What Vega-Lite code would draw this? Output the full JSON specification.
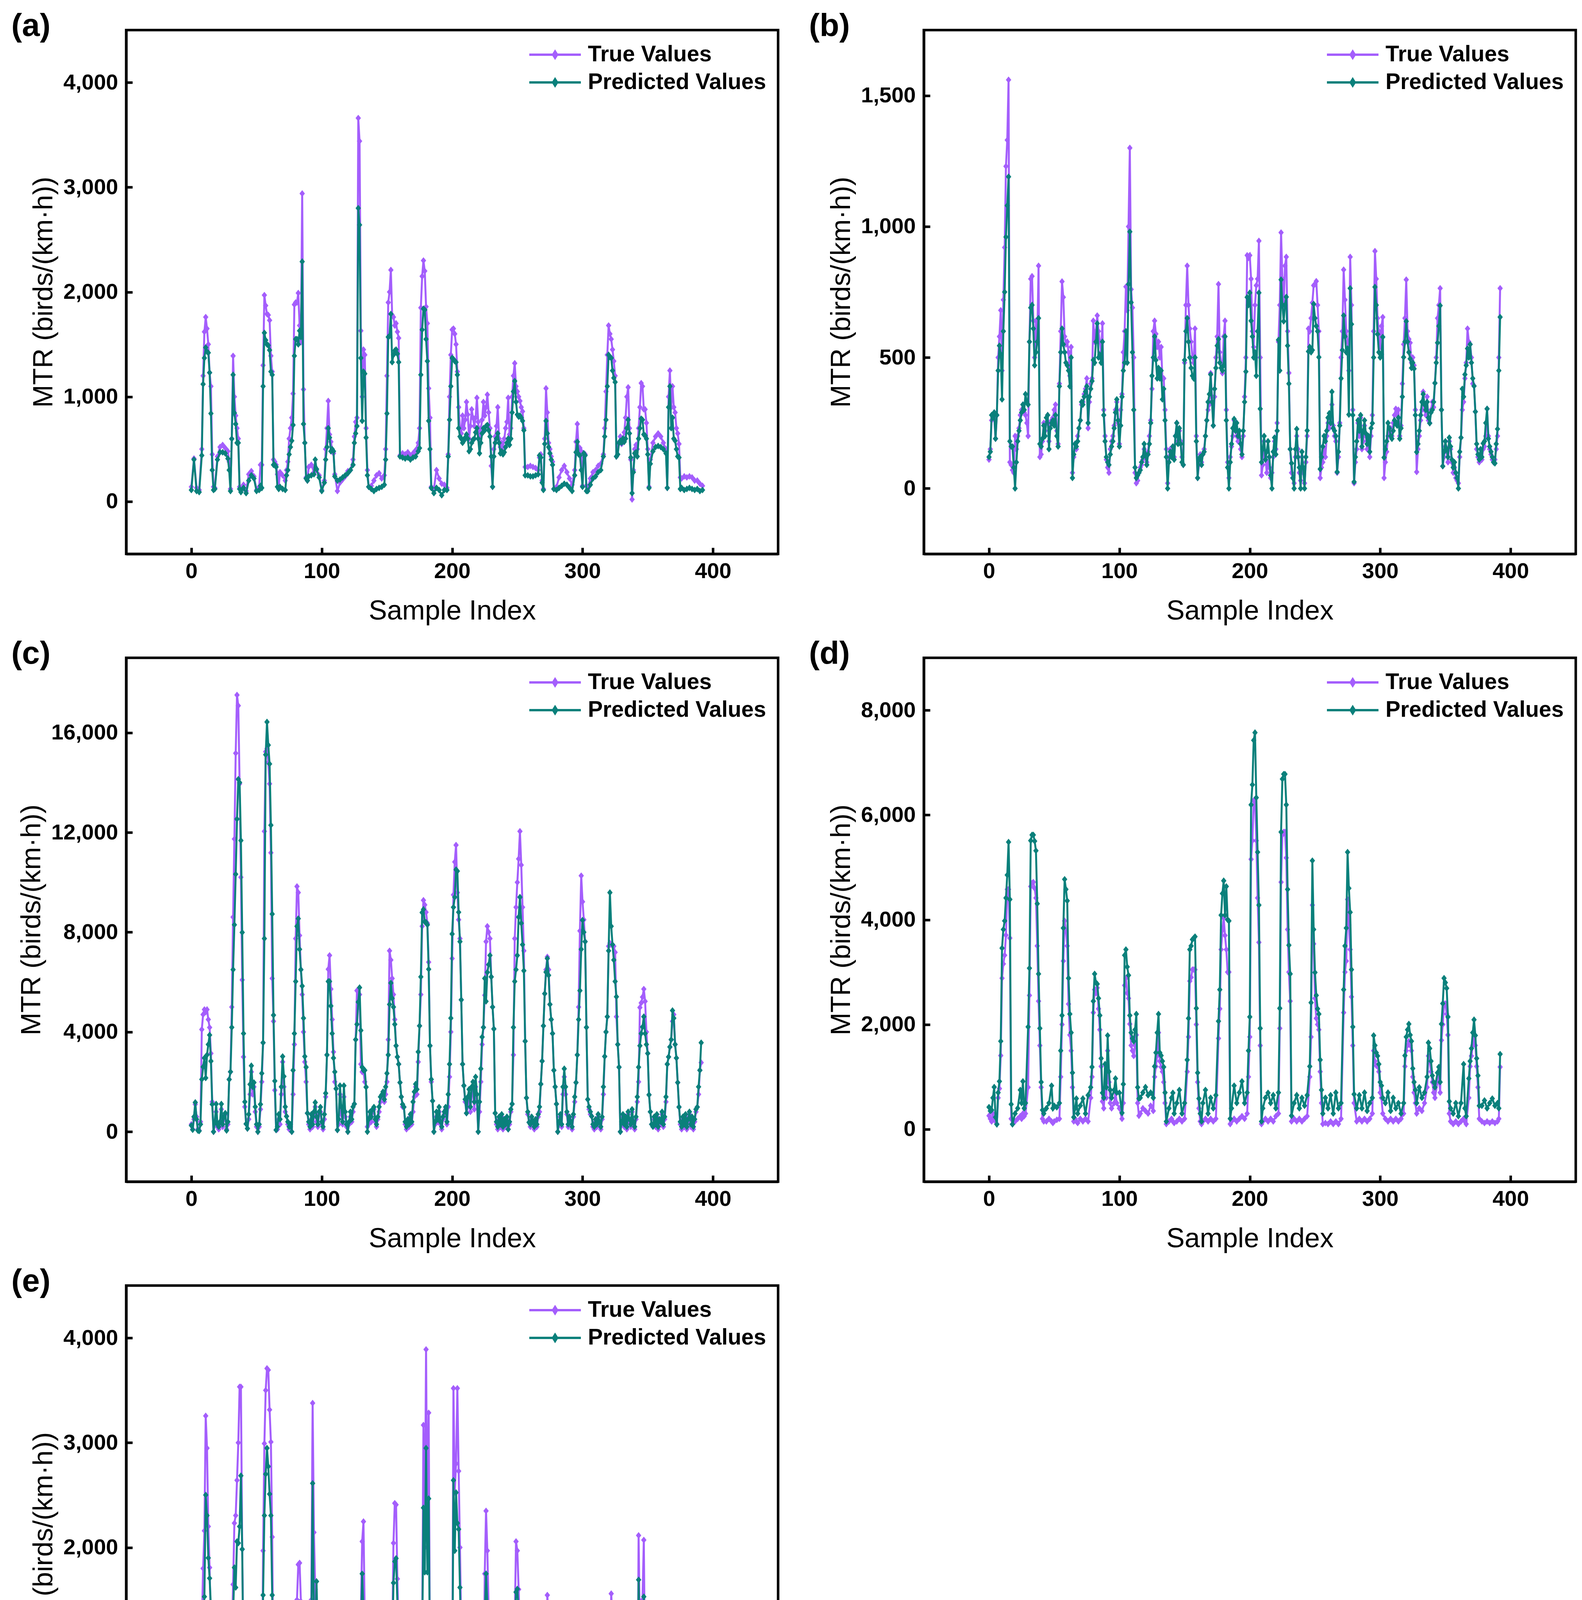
{
  "$schema": "https://vega.github.io/schema/vega-lite/v6.json",
  "background": "white",
  "padding": {"left": 25, "top": 22, "right": 5, "bottom": 5},
  "datasets": {
    "a": [
      {"i":0,"t":140,"p":110},{"i":2,"t":410,"p":400},{"i":4,"t":130,"p":100},{"i":6,"t":110,"p":90},{"i":8,"t":500,"p":440},{"i":9,"t":1200,"p":1120},{"i":10,"t":1620,"p":1370},{"i":11,"t":1760,"p":1470},{"i":12,"t":1650,"p":1430},{"i":13,"t":1500,"p":1420},{"i":14,"t":1230,"p":1230},{"i":15,"t":1100,"p":840},{"i":16,"t":450,"p":300},{"i":17,"t":140,"p":110},{"i":18,"t":130,"p":120},{"i":20,"t":430,"p":400},{"i":22,"t":520,"p":470},{"i":24,"t":540,"p":470},{"i":26,"t":510,"p":460},{"i":28,"t":480,"p":410},{"i":29,"t":380,"p":300},{"i":30,"t":120,"p":100},{"i":31,"t":600,"p":598},{"i":32,"t":1390,"p":1210},{"i":33,"t":1000,"p":845},{"i":34,"t":820,"p":740},{"i":35,"t":700,"p":560},{"i":36,"t":600,"p":560},{"i":37,"t":140,"p":120},{"i":38,"t":110,"p":90},{"i":40,"t":160,"p":130},{"i":42,"t":100,"p":80},{"i":44,"t":260,"p":200},{"i":46,"t":290,"p":250},{"i":48,"t":240,"p":220},{"i":50,"t":110,"p":100},{"i":52,"t":140,"p":110},{"i":53,"t":350,"p":150},{"i":54,"t":350,"p":130},{"i":55,"t":1300,"p":1100},{"i":56,"t":1970,"p":1610},{"i":57,"t":1870,"p":1540},{"i":58,"t":1790,"p":1500},{"i":59,"t":1780,"p":1490},{"i":60,"t":1730,"p":1445},{"i":61,"t":1390,"p":1240},{"i":62,"t":1240,"p":1210},{"i":63,"t":400,"p":350},{"i":64,"t":380,"p":350},{"i":65,"t":350,"p":330},{"i":66,"t":260,"p":140},{"i":67,"t":140,"p":120},{"i":68,"t":280,"p":140},{"i":70,"t":250,"p":120},{"i":72,"t":200,"p":110},{"i":73,"t":300,"p":250},{"i":74,"t":380,"p":300},{"i":75,"t":600,"p":450},{"i":76,"t":700,"p":520},{"i":77,"t":800,"p":580},{"i":78,"t":1030,"p":730},{"i":79,"t":1880,"p":1390},{"i":80,"t":1900,"p":1550},{"i":81,"t":1900,"p":1550},{"i":82,"t":1990,"p":1500},{"i":83,"t":1680,"p":1630},{"i":84,"t":1520,"p":1570},{"i":85,"t":2940,"p":2290},{"i":86,"t":1070,"p":740},{"i":87,"t":560,"p":560},{"i":88,"t":230,"p":220},{"i":89,"t":200,"p":200},{"i":90,"t":330,"p":240},{"i":92,"t":350,"p":250},{"i":94,"t":280,"p":260},{"i":95,"t":330,"p":400},{"i":96,"t":300,"p":310},{"i":98,"t":250,"p":230},{"i":100,"t":110,"p":100},{"i":102,"t":200,"p":180},{"i":103,"t":500,"p":400},{"i":104,"t":700,"p":520},{"i":105,"t":960,"p":700},{"i":106,"t":640,"p":610},{"i":107,"t":570,"p":480},{"i":108,"t":500,"p":500},{"i":109,"t":460,"p":480},{"i":110,"t":260,"p":240},{"i":112,"t":100,"p":200},{"i":114,"t":180,"p":210},{"i":116,"t":210,"p":230},{"i":118,"t":240,"p":250},{"i":120,"t":290,"p":270},{"i":122,"t":300,"p":300},{"i":124,"t":400,"p":350},{"i":125,"t":620,"p":560},{"i":126,"t":760,"p":650},{"i":127,"t":800,"p":720},{"i":128,"t":3660,"p":2800},{"i":129,"t":3440,"p":2640},{"i":130,"t":1630,"p":1370},{"i":131,"t":1000,"p":770},{"i":132,"t":1450,"p":1240},{"i":133,"t":1400,"p":1220},{"i":134,"t":700,"p":610},{"i":135,"t":300,"p":250},{"i":136,"t":140,"p":140},{"i":138,"t":150,"p":120},{"i":140,"t":200,"p":100},{"i":142,"t":250,"p":120},{"i":144,"t":270,"p":130},{"i":146,"t":220,"p":140},{"i":148,"t":250,"p":160},{"i":149,"t":500,"p":400},{"i":150,"t":1200,"p":840},{"i":151,"t":1900,"p":1570},{"i":152,"t":2000,"p":1580},{"i":153,"t":2210,"p":1790},{"i":154,"t":1780,"p":1330},{"i":155,"t":1760,"p":1400},{"i":156,"t":1680,"p":1440},{"i":157,"t":1700,"p":1450},{"i":158,"t":1620,"p":1410},{"i":159,"t":1560,"p":1330},{"i":160,"t":440,"p":430},{"i":162,"t":460,"p":420},{"i":164,"t":450,"p":410},{"i":166,"t":470,"p":420},{"i":168,"t":440,"p":400},{"i":170,"t":460,"p":420},{"i":172,"t":490,"p":430},{"i":174,"t":560,"p":480},{"i":175,"t":700,"p":510},{"i":176,"t":1850,"p":1210},{"i":177,"t":2150,"p":1640},{"i":178,"t":2300,"p":1840},{"i":179,"t":2200,"p":1830},{"i":180,"t":1860,"p":1550},{"i":181,"t":1700,"p":1340},{"i":182,"t":1080,"p":770},{"i":183,"t":800,"p":500},{"i":184,"t":140,"p":130},{"i":186,"t":120,"p":80},{"i":188,"t":300,"p":130},{"i":190,"t":220,"p":110},{"i":192,"t":170,"p":60},{"i":194,"t":160,"p":110},{"i":196,"t":130,"p":110},{"i":197,"t":450,"p":430},{"i":198,"t":1000,"p":780},{"i":199,"t":1400,"p":1100},{"i":200,"t":1640,"p":1370},{"i":201,"t":1650,"p":1360},{"i":202,"t":1600,"p":1340},{"i":203,"t":1500,"p":1330},{"i":204,"t":1240,"p":1210},{"i":205,"t":900,"p":700},{"i":206,"t":700,"p":620},{"i":207,"t":650,"p":600},{"i":208,"t":820,"p":560},{"i":209,"t":700,"p":580},{"i":210,"t":780,"p":610},{"i":211,"t":950,"p":640},{"i":212,"t":830,"p":600},{"i":213,"t":600,"p":480},{"i":214,"t":720,"p":500},{"i":215,"t":880,"p":560},{"i":216,"t":800,"p":590},{"i":217,"t":720,"p":600},{"i":218,"t":800,"p":660},{"i":219,"t":990,"p":700},{"i":220,"t":760,"p":600},{"i":221,"t":600,"p":460},{"i":222,"t":700,"p":560},{"i":223,"t":780,"p":650},{"i":224,"t":950,"p":700},{"i":225,"t":820,"p":680},{"i":226,"t":900,"p":720},{"i":227,"t":1020,"p":730},{"i":228,"t":850,"p":680},{"i":229,"t":700,"p":620},{"i":230,"t":340,"p":430},{"i":231,"t":140,"p":140},{"i":232,"t":500,"p":430},{"i":233,"t":620,"p":560},{"i":234,"t":720,"p":600},{"i":235,"t":900,"p":650},{"i":236,"t":600,"p":560},{"i":237,"t":520,"p":460},{"i":238,"t":560,"p":480},{"i":239,"t":520,"p":450},{"i":240,"t":600,"p":470},{"i":241,"t":700,"p":520},{"i":242,"t":760,"p":560},{"i":243,"t":990,"p":600},{"i":244,"t":640,"p":540},{"i":245,"t":700,"p":600},{"i":246,"t":1000,"p":850},{"i":247,"t":1200,"p":1050},{"i":248,"t":1320,"p":1150},{"i":249,"t":1100,"p":950},{"i":250,"t":1050,"p":830},{"i":251,"t":1000,"p":810},{"i":252,"t":960,"p":820},{"i":253,"t":900,"p":800},{"i":254,"t":860,"p":770},{"i":255,"t":700,"p":680},{"i":256,"t":330,"p":250},{"i":258,"t":330,"p":250},{"i":260,"t":340,"p":240},{"i":262,"t":330,"p":240},{"i":264,"t":320,"p":250},{"i":266,"t":300,"p":260},{"i":267,"t":420,"p":440},{"i":268,"t":450,"p":420},{"i":269,"t":200,"p":180},{"i":270,"t":120,"p":110},{"i":271,"t":600,"p":550},{"i":272,"t":1080,"p":770},{"i":273,"t":850,"p":650},{"i":274,"t":560,"p":520},{"i":275,"t":500,"p":460},{"i":276,"t":430,"p":400},{"i":277,"t":380,"p":350},{"i":278,"t":120,"p":120},{"i":280,"t":140,"p":110},{"i":282,"t":230,"p":130},{"i":284,"t":300,"p":150},{"i":286,"t":340,"p":170},{"i":288,"t":280,"p":160},{"i":290,"t":220,"p":130},{"i":292,"t":160,"p":100},{"i":294,"t":300,"p":250},{"i":295,"t":570,"p":470},{"i":296,"t":740,"p":570},{"i":297,"t":500,"p":450},{"i":298,"t":510,"p":440},{"i":299,"t":480,"p":300},{"i":300,"t":150,"p":140},{"i":301,"t":430,"p":460},{"i":302,"t":450,"p":440},{"i":303,"t":150,"p":100},{"i":304,"t":120,"p":100},{"i":306,"t":220,"p":160},{"i":308,"t":280,"p":220},{"i":310,"t":300,"p":240},{"i":312,"t":340,"p":280},{"i":314,"t":360,"p":300},{"i":316,"t":450,"p":430},{"i":317,"t":700,"p":620},{"i":318,"t":1050,"p":780},{"i":319,"t":1400,"p":1100},{"i":320,"t":1680,"p":1400},{"i":321,"t":1600,"p":1380},{"i":322,"t":1550,"p":1370},{"i":323,"t":1450,"p":1250},{"i":324,"t":1340,"p":1180},{"i":325,"t":1200,"p":1140},{"i":326,"t":430,"p":430},{"i":327,"t":550,"p":450},{"i":328,"t":560,"p":560},{"i":329,"t":620,"p":580},{"i":330,"t":550,"p":560},{"i":331,"t":600,"p":600},{"i":332,"t":660,"p":570},{"i":333,"t":800,"p":600},{"i":334,"t":1000,"p":700},{"i":335,"t":1090,"p":780},{"i":336,"t":700,"p":650},{"i":337,"t":400,"p":420},{"i":338,"t":20,"p":80},{"i":339,"t":300,"p":280},{"i":340,"t":500,"p":460},{"i":341,"t":540,"p":470},{"i":342,"t":500,"p":430},{"i":343,"t":700,"p":600},{"i":344,"t":900,"p":700},{"i":345,"t":1130,"p":790},{"i":346,"t":1100,"p":780},{"i":347,"t":880,"p":640},{"i":348,"t":880,"p":630},{"i":349,"t":750,"p":600},{"i":350,"t":500,"p":450},{"i":351,"t":140,"p":130},{"i":352,"t":400,"p":360},{"i":354,"t":560,"p":480},{"i":356,"t":620,"p":520},{"i":358,"t":650,"p":530},{"i":360,"t":620,"p":520},{"i":362,"t":560,"p":500},{"i":364,"t":500,"p":460},{"i":365,"t":130,"p":130},{"i":366,"t":1000,"p":900},{"i":367,"t":1250,"p":1100},{"i":368,"t":900,"p":700},{"i":369,"t":1100,"p":800},{"i":370,"t":900,"p":600},{"i":371,"t":850,"p":580},{"i":372,"t":700,"p":500},{"i":373,"t":650,"p":430},{"i":374,"t":550,"p":420},{"i":375,"t":230,"p":120},{"i":376,"t":220,"p":130},{"i":378,"t":240,"p":110},{"i":380,"t":230,"p":120},{"i":382,"t":240,"p":130},{"i":384,"t":230,"p":120},{"i":386,"t":200,"p":110},{"i":388,"t":200,"p":120},{"i":390,"t":170,"p":100},{"i":392,"t":150,"p":110}
    ],
    "b": [
      {"i":0,"t":110,"p":120},{"i":1,"t":150,"p":140},{"i":2,"t":260,"p":280},{"i":3,"t":280,"p":270},{"i":4,"t":270,"p":290},{"i":5,"t":190,"p":190},{"i":6,"t":280,"p":280},{"i":7,"t":500,"p":450},{"i":8,"t":580,"p":545},{"i":9,"t":680,"p":512},{"i":10,"t":450,"p":340},{"i":11,"t":720,"p":600},{"i":12,"t":920,"p":750},{"i":13,"t":1230,"p":960},{"i":14,"t":1330,"p":1080},{"i":15,"t":1560,"p":1190},{"i":16,"t":100,"p":180},{"i":17,"t":90,"p":160},{"i":18,"t":70,"p":160},{"i":19,"t":60,"p":80},{"i":20,"t":200,"p":0},{"i":21,"t":150,"p":100},{"i":22,"t":200,"p":180},{"i":23,"t":230,"p":220},{"i":24,"t":280,"p":260},{"i":25,"t":300,"p":290},{"i":26,"t":320,"p":320},{"i":27,"t":290,"p":300},{"i":28,"t":280,"p":360},{"i":29,"t":250,"p":330},{"i":30,"t":200,"p":320},{"i":31,"t":560,"p":560},{"i":32,"t":800,"p":690},{"i":33,"t":810,"p":700},{"i":34,"t":640,"p":610},{"i":35,"t":500,"p":470},{"i":36,"t":640,"p":520},{"i":37,"t":560,"p":560},{"i":38,"t":850,"p":650},{"i":39,"t":120,"p":170},{"i":40,"t":130,"p":160},{"i":41,"t":180,"p":190},{"i":42,"t":250,"p":240},{"i":43,"t":220,"p":200},{"i":44,"t":250,"p":270},{"i":45,"t":280,"p":280},{"i":46,"t":180,"p":150},{"i":47,"t":250,"p":230},{"i":48,"t":260,"p":250},{"i":49,"t":270,"p":260},{"i":50,"t":300,"p":240},{"i":51,"t":320,"p":280},{"i":52,"t":220,"p":200},{"i":53,"t":170,"p":160},{"i":54,"t":400,"p":390},{"i":55,"t":600,"p":520},{"i":56,"t":790,"p":610},{"i":57,"t":730,"p":550},{"i":58,"t":580,"p":520},{"i":59,"t":550,"p":480},{"i":60,"t":560,"p":470},{"i":61,"t":520,"p":450},{"i":62,"t":430,"p":390},{"i":63,"t":540,"p":500},{"i":64,"t":60,"p":40},{"i":65,"t":120,"p":130},{"i":66,"t":170,"p":170},{"i":67,"t":150,"p":160},{"i":68,"t":200,"p":180},{"i":69,"t":230,"p":230},{"i":70,"t":260,"p":260},{"i":71,"t":320,"p":330},{"i":72,"t":330,"p":320},{"i":73,"t":360,"p":350},{"i":74,"t":380,"p":370},{"i":75,"t":420,"p":390},{"i":76,"t":230,"p":250},{"i":77,"t":330,"p":350},{"i":78,"t":400,"p":380},{"i":79,"t":420,"p":410},{"i":80,"t":640,"p":490},{"i":81,"t":560,"p":480},{"i":82,"t":600,"p":560},{"i":83,"t":660,"p":630},{"i":84,"t":600,"p":500},{"i":85,"t":560,"p":510},{"i":86,"t":520,"p":480},{"i":87,"t":630,"p":560},{"i":88,"t":300,"p":280},{"i":89,"t":200,"p":180},{"i":90,"t":110,"p":120},{"i":91,"t":80,"p":100},{"i":92,"t":60,"p":90},{"i":93,"t":150,"p":130},{"i":94,"t":180,"p":160},{"i":95,"t":200,"p":180},{"i":96,"t":240,"p":230},{"i":97,"t":300,"p":290},{"i":98,"t":330,"p":340},{"i":99,"t":250,"p":260},{"i":100,"t":170,"p":160},{"i":101,"t":300,"p":240},{"i":102,"t":360,"p":350},{"i":103,"t":520,"p":450},{"i":104,"t":600,"p":480},{"i":105,"t":770,"p":600},{"i":106,"t":680,"p":480},{"i":107,"t":1000,"p":780},{"i":108,"t":1300,"p":980},{"i":109,"t":760,"p":710},{"i":110,"t":690,"p":520},{"i":111,"t":500,"p":300},{"i":112,"t":60,"p":80},{"i":113,"t":20,"p":40},{"i":114,"t":30,"p":50},{"i":115,"t":60,"p":60},{"i":116,"t":80,"p":70},{"i":117,"t":90,"p":100},{"i":118,"t":110,"p":120},{"i":119,"t":150,"p":170},{"i":120,"t":120,"p":130},{"i":121,"t":100,"p":90},{"i":122,"t":140,"p":130},{"i":123,"t":200,"p":170},{"i":124,"t":260,"p":250},{"i":125,"t":380,"p":430},{"i":126,"t":600,"p":500},{"i":127,"t":640,"p":580},{"i":128,"t":590,"p":490},{"i":129,"t":540,"p":420},{"i":130,"t":560,"p":460},{"i":131,"t":500,"p":420},{"i":132,"t":540,"p":450},{"i":133,"t":420,"p":340},{"i":134,"t":420,"p":380},{"i":135,"t":300,"p":260},{"i":136,"t":150,"p":120},{"i":137,"t":20,"p":0},{"i":138,"t":120,"p":100},{"i":139,"t":150,"p":140},{"i":140,"t":130,"p":120},{"i":141,"t":160,"p":160},{"i":142,"t":120,"p":110},{"i":143,"t":200,"p":200},{"i":144,"t":250,"p":250},{"i":145,"t":180,"p":170},{"i":146,"t":220,"p":230},{"i":147,"t":180,"p":170},{"i":148,"t":120,"p":100},{"i":149,"t":90,"p":90},{"i":150,"t":480,"p":490},{"i":151,"t":700,"p":600},{"i":152,"t":850,"p":650},{"i":153,"t":700,"p":560},{"i":154,"t":610,"p":500},{"i":155,"t":560,"p":460},{"i":156,"t":500,"p":430},{"i":157,"t":480,"p":420},{"i":158,"t":610,"p":500},{"i":159,"t":200,"p":180},{"i":160,"t":40,"p":40},{"i":161,"t":90,"p":110},{"i":162,"t":130,"p":120},{"i":163,"t":100,"p":90},{"i":164,"t":130,"p":130},{"i":165,"t":150,"p":140},{"i":166,"t":200,"p":200},{"i":167,"t":260,"p":260},{"i":168,"t":300,"p":330},{"i":169,"t":320,"p":360},{"i":170,"t":440,"p":435},{"i":171,"t":350,"p":330},{"i":172,"t":240,"p":240},{"i":173,"t":350,"p":380},{"i":174,"t":500,"p":460},{"i":175,"t":580,"p":545},{"i":176,"t":780,"p":570},{"i":177,"t":520,"p":480},{"i":178,"t":480,"p":460},{"i":179,"t":440,"p":450},{"i":180,"t":580,"p":470},{"i":181,"t":640,"p":580},{"i":182,"t":300,"p":260},{"i":183,"t":100,"p":80},{"i":184,"t":40,"p":0},{"i":185,"t":120,"p":100},{"i":186,"t":160,"p":170},{"i":187,"t":200,"p":230},{"i":188,"t":260,"p":265},{"i":189,"t":230,"p":220},{"i":190,"t":200,"p":250},{"i":191,"t":180,"p":200},{"i":192,"t":190,"p":220},{"i":193,"t":150,"p":170},{"i":194,"t":120,"p":130},{"i":195,"t":200,"p":220},{"i":196,"t":350,"p":330},{"i":197,"t":500,"p":446},{"i":198,"t":890,"p":730},{"i":199,"t":880,"p":700},{"i":200,"t":890,"p":747},{"i":201,"t":800,"p":640},{"i":202,"t":600,"p":580},{"i":203,"t":540,"p":500},{"i":204,"t":700,"p":520},{"i":205,"t":775,"p":430},{"i":206,"t":800,"p":600},{"i":207,"t":945,"p":747},{"i":208,"t":500,"p":304},{"i":209,"t":50,"p":100},{"i":210,"t":90,"p":150},{"i":211,"t":180,"p":200},{"i":212,"t":120,"p":110},{"i":213,"t":60,"p":140},{"i":214,"t":100,"p":180},{"i":215,"t":80,"p":120},{"i":216,"t":40,"p":50},{"i":217,"t":60,"p":0},{"i":218,"t":120,"p":140},{"i":219,"t":180,"p":194},{"i":220,"t":150,"p":130},{"i":221,"t":250,"p":220},{"i":222,"t":560,"p":567},{"i":223,"t":700,"p":450},{"i":224,"t":977,"p":797},{"i":225,"t":800,"p":700},{"i":226,"t":700,"p":638},{"i":227,"t":850,"p":700},{"i":228,"t":884,"p":731},{"i":229,"t":600,"p":545},{"i":230,"t":441,"p":400},{"i":231,"t":150,"p":150},{"i":232,"t":60,"p":96},{"i":233,"t":40,"p":40},{"i":234,"t":20,"p":0},{"i":235,"t":120,"p":150},{"i":236,"t":200,"p":227},{"i":237,"t":150,"p":120},{"i":238,"t":60,"p":80},{"i":239,"t":30,"p":0},{"i":240,"t":120,"p":140},{"i":241,"t":60,"p":80},{"i":242,"t":20,"p":0},{"i":243,"t":100,"p":120},{"i":244,"t":200,"p":221},{"i":245,"t":610,"p":523},{"i":246,"t":600,"p":540},{"i":247,"t":650,"p":520},{"i":248,"t":709,"p":528},{"i":249,"t":775,"p":704},{"i":250,"t":780,"p":650},{"i":251,"t":791,"p":620},{"i":252,"t":700,"p":600},{"i":253,"t":600,"p":501},{"i":254,"t":40,"p":74},{"i":255,"t":80,"p":120},{"i":256,"t":100,"p":160},{"i":257,"t":150,"p":200},{"i":258,"t":120,"p":180},{"i":259,"t":200,"p":220},{"i":260,"t":250,"p":270},{"i":261,"t":230,"p":287},{"i":262,"t":260,"p":250},{"i":263,"t":320,"p":369},{"i":264,"t":240,"p":230},{"i":265,"t":200,"p":220},{"i":266,"t":180,"p":200},{"i":267,"t":60,"p":63},{"i":268,"t":120,"p":140},{"i":269,"t":250,"p":240},{"i":270,"t":500,"p":420},{"i":271,"t":600,"p":528},{"i":272,"t":835,"p":660},{"i":273,"t":720,"p":580},{"i":274,"t":600,"p":520},{"i":275,"t":560,"p":534},{"i":276,"t":450,"p":282},{"i":277,"t":884,"p":764},{"i":278,"t":700,"p":627},{"i":279,"t":300,"p":280},{"i":280,"t":20,"p":25},{"i":281,"t":100,"p":120},{"i":282,"t":150,"p":180},{"i":283,"t":250,"p":260},{"i":284,"t":200,"p":220},{"i":285,"t":270,"p":280},{"i":286,"t":150,"p":160},{"i":287,"t":180,"p":220},{"i":288,"t":240,"p":260},{"i":289,"t":200,"p":210},{"i":290,"t":150,"p":170},{"i":291,"t":180,"p":200},{"i":292,"t":120,"p":140},{"i":293,"t":200,"p":230},{"i":294,"t":280,"p":249},{"i":295,"t":600,"p":500},{"i":296,"t":906,"p":769},{"i":297,"t":800,"p":700},{"i":298,"t":650,"p":589},{"i":299,"t":600,"p":520},{"i":300,"t":540,"p":500},{"i":301,"t":620,"p":512},{"i":302,"t":654,"p":578},{"i":303,"t":40,"p":118},{"i":304,"t":100,"p":150},{"i":305,"t":140,"p":180},{"i":306,"t":200,"p":250},{"i":307,"t":220,"p":230},{"i":308,"t":230,"p":200},{"i":309,"t":200,"p":190},{"i":310,"t":250,"p":220},{"i":311,"t":280,"p":260},{"i":312,"t":304,"p":250},{"i":313,"t":280,"p":240},{"i":314,"t":300,"p":270},{"i":315,"t":200,"p":190},{"i":316,"t":240,"p":230},{"i":317,"t":400,"p":350},{"i":318,"t":550,"p":501},{"i":319,"t":650,"p":560},{"i":320,"t":797,"p":638},{"i":321,"t":600,"p":560},{"i":322,"t":570,"p":520},{"i":323,"t":556,"p":495},{"i":324,"t":480,"p":460},{"i":325,"t":500,"p":480},{"i":326,"t":470,"p":457},{"i":327,"t":300,"p":280},{"i":328,"t":63,"p":139},{"i":329,"t":150,"p":170},{"i":330,"t":200,"p":220},{"i":331,"t":260,"p":280},{"i":332,"t":300,"p":330},{"i":333,"t":369,"p":360},{"i":334,"t":300,"p":320},{"i":335,"t":280,"p":300},{"i":336,"t":350,"p":330},{"i":337,"t":260,"p":270},{"i":338,"t":250,"p":249},{"i":339,"t":300,"p":290},{"i":340,"t":330,"p":300},{"i":341,"t":310,"p":330},{"i":342,"t":402,"p":402},{"i":343,"t":500,"p":480},{"i":344,"t":650,"p":556},{"i":345,"t":700,"p":620},{"i":346,"t":764,"p":698},{"i":347,"t":300,"p":300},{"i":348,"t":85,"p":85},{"i":349,"t":120,"p":140},{"i":350,"t":160,"p":180},{"i":351,"t":140,"p":150},{"i":352,"t":100,"p":120},{"i":353,"t":180,"p":194},{"i":354,"t":150,"p":160},{"i":355,"t":100,"p":110},{"i":356,"t":60,"p":80},{"i":357,"t":80,"p":100},{"i":358,"t":40,"p":60},{"i":359,"t":30,"p":40},{"i":360,"t":20,"p":0},{"i":361,"t":120,"p":140},{"i":362,"t":194,"p":194},{"i":363,"t":300,"p":380},{"i":364,"t":330,"p":350},{"i":365,"t":420,"p":435},{"i":366,"t":480,"p":470},{"i":367,"t":610,"p":534},{"i":368,"t":560,"p":500},{"i":369,"t":550,"p":550},{"i":370,"t":500,"p":480},{"i":371,"t":400,"p":420},{"i":372,"t":391,"p":391},{"i":373,"t":293,"p":293},{"i":374,"t":150,"p":170},{"i":375,"t":120,"p":130},{"i":376,"t":100,"p":110},{"i":377,"t":130,"p":150},{"i":378,"t":110,"p":120},{"i":379,"t":150,"p":172},{"i":380,"t":160,"p":180},{"i":381,"t":200,"p":250},{"i":382,"t":304,"p":304},{"i":383,"t":200,"p":190},{"i":384,"t":150,"p":160},{"i":385,"t":130,"p":140},{"i":386,"t":110,"p":120},{"i":387,"t":100,"p":100},{"i":388,"t":110,"p":96},{"i":389,"t":150,"p":170},{"i":390,"t":200,"p":227},{"i":391,"t":500,"p":450},{"i":392,"t":764,"p":654}
    ],
    "c": [
      {"i":0,"t":300,"p":250},{"i":1,"t":100,"p":80},{"i":2,"t":500,"p":600},{"i":3,"t":1100,"p":1175},{"i":4,"t":600,"p":500},{"i":5,"t":100,"p":50},{"i":6,"t":50,"p":30},{"i":7,"t":400,"p":300},{"i":8,"t":4100,"p":2100},{"i":9,"t":4700,"p":2600},{"i":10,"t":4900,"p":2955},{"i":11,"t":4800,"p":2157},{"i":12,"t":4900,"p":3080},{"i":13,"t":4500,"p":3500},{"i":14,"t":4180,"p":3877},{"i":15,"t":3140,"p":2830},{"i":16,"t":1200,"p":1100},{"i":17,"t":0,"p":0},{"i":18,"t":300,"p":400},{"i":19,"t":800,"p":1113},{"i":20,"t":200,"p":300},{"i":21,"t":100,"p":200},{"i":22,"t":300,"p":400},{"i":23,"t":900,"p":1113},{"i":24,"t":200,"p":300},{"i":25,"t":500,"p":600},{"i":26,"t":700,"p":745},{"i":27,"t":100,"p":50},{"i":28,"t":300,"p":400},{"i":29,"t":2100,"p":2096},{"i":30,"t":2400,"p":2403},{"i":31,"t":5000,"p":4184},{"i":32,"t":8605,"p":6500},{"i":33,"t":11737,"p":8298},{"i":34,"t":15176,"p":10325},{"i":35,"t":17510,"p":12536},{"i":36,"t":17080,"p":14132},{"i":37,"t":13948,"p":14000},{"i":38,"t":10202,"p":11676},{"i":39,"t":6087,"p":7991},{"i":40,"t":3000,"p":3938},{"i":41,"t":1000,"p":1200},{"i":42,"t":315,"p":315},{"i":43,"t":130,"p":130},{"i":44,"t":500,"p":700},{"i":45,"t":1500,"p":1900},{"i":46,"t":2400,"p":2649},{"i":47,"t":1500,"p":1800},{"i":48,"t":1800,"p":1973},{"i":49,"t":800,"p":1000},{"i":50,"t":200,"p":300},{"i":51,"t":0,"p":0},{"i":52,"t":200,"p":300},{"i":53,"t":900,"p":1100},{"i":54,"t":2000,"p":2341},{"i":55,"t":3570,"p":3570},{"i":56,"t":12044,"p":7745},{"i":57,"t":15237,"p":15115},{"i":58,"t":15360,"p":16429},{"i":59,"t":14800,"p":15500},{"i":60,"t":13948,"p":14746},{"i":61,"t":11185,"p":12290},{"i":62,"t":6147,"p":8728},{"i":63,"t":4430,"p":4675},{"i":64,"t":1666,"p":2035},{"i":65,"t":70,"p":70},{"i":66,"t":100,"p":200},{"i":67,"t":500,"p":700},{"i":68,"t":300,"p":500},{"i":69,"t":1500,"p":1800},{"i":70,"t":2800,"p":3018},{"i":71,"t":1800,"p":2219},{"i":72,"t":800,"p":1000},{"i":73,"t":620,"p":620},{"i":74,"t":300,"p":400},{"i":75,"t":100,"p":200},{"i":76,"t":200,"p":300},{"i":77,"t":0,"p":0},{"i":78,"t":1500,"p":2465},{"i":79,"t":3500,"p":3938},{"i":80,"t":7745,"p":6026},{"i":81,"t":9834,"p":8237},{"i":82,"t":9588,"p":8544},{"i":83,"t":7868,"p":7315},{"i":84,"t":6500,"p":6500},{"i":85,"t":5500,"p":5842},{"i":86,"t":4000,"p":4553},{"i":87,"t":2800,"p":3018},{"i":88,"t":2000,"p":2588},{"i":89,"t":745,"p":745},{"i":90,"t":300,"p":400},{"i":91,"t":100,"p":200},{"i":92,"t":500,"p":700},{"i":93,"t":200,"p":300},{"i":94,"t":600,"p":800},{"i":95,"t":1000,"p":1175},{"i":96,"t":400,"p":600},{"i":97,"t":200,"p":300},{"i":98,"t":700,"p":800},{"i":99,"t":800,"p":990},{"i":100,"t":300,"p":400},{"i":101,"t":100,"p":200},{"i":102,"t":500,"p":700},{"i":103,"t":1400,"p":1543},{"i":104,"t":3080,"p":3080},{"i":105,"t":6517,"p":6026},{"i":106,"t":7070,"p":6026},{"i":107,"t":5719,"p":5043},{"i":108,"t":4500,"p":3938},{"i":109,"t":3200,"p":2955},{"i":110,"t":2000,"p":2400},{"i":111,"t":1727,"p":1727},{"i":112,"t":70,"p":70},{"i":113,"t":300,"p":500},{"i":114,"t":1500,"p":1850},{"i":115,"t":700,"p":1000},{"i":116,"t":300,"p":400},{"i":117,"t":1400,"p":1850},{"i":118,"t":600,"p":800},{"i":119,"t":200,"p":300},{"i":120,"t":0,"p":0},{"i":121,"t":300,"p":400},{"i":122,"t":600,"p":800},{"i":123,"t":400,"p":500},{"i":124,"t":800,"p":1000},{"i":125,"t":1113,"p":1113},{"i":126,"t":3693,"p":3693},{"i":127,"t":5658,"p":4307},{"i":128,"t":5000,"p":5200},{"i":129,"t":5500,"p":5780},{"i":130,"t":2710,"p":4061},{"i":131,"t":2400,"p":2588},{"i":132,"t":2400,"p":2465},{"i":133,"t":2000,"p":2465},{"i":134,"t":1789,"p":1789},{"i":135,"t":200,"p":0},{"i":136,"t":300,"p":500},{"i":137,"t":600,"p":800},{"i":138,"t":400,"p":600},{"i":139,"t":800,"p":900},{"i":140,"t":900,"p":990},{"i":141,"t":400,"p":500},{"i":142,"t":200,"p":300},{"i":143,"t":500,"p":600},{"i":144,"t":800,"p":1000},{"i":145,"t":1200,"p":1400},{"i":146,"t":1400,"p":1481},{"i":147,"t":1500,"p":1604},{"i":148,"t":1200,"p":1300},{"i":149,"t":1500,"p":1800},{"i":150,"t":2000,"p":2342},{"i":151,"t":3693,"p":3080},{"i":152,"t":7254,"p":5105},{"i":153,"t":6886,"p":5964},{"i":154,"t":6147,"p":5350},{"i":155,"t":5500,"p":5000},{"i":156,"t":4500,"p":4307},{"i":157,"t":3448,"p":3448},{"i":158,"t":3000,"p":3000},{"i":159,"t":2710,"p":2710},{"i":160,"t":1973,"p":1973},{"i":161,"t":1400,"p":1400},{"i":162,"t":1000,"p":1100},{"i":163,"t":990,"p":990},{"i":164,"t":300,"p":400},{"i":165,"t":100,"p":200},{"i":166,"t":400,"p":500},{"i":167,"t":200,"p":300},{"i":168,"t":600,"p":700},{"i":169,"t":300,"p":400},{"i":170,"t":800,"p":1200},{"i":171,"t":1400,"p":1600},{"i":172,"t":1800,"p":1911},{"i":173,"t":1500,"p":1700},{"i":174,"t":2800,"p":3202},{"i":175,"t":4245,"p":4245},{"i":176,"t":5500,"p":6210},{"i":177,"t":8237,"p":8790},{"i":178,"t":9281,"p":8913},{"i":179,"t":9097,"p":8422},{"i":180,"t":8800,"p":8400},{"i":181,"t":8360,"p":8298},{"i":182,"t":6800,"p":6517},{"i":183,"t":3448,"p":3448},{"i":184,"t":2000,"p":2100},{"i":185,"t":1236,"p":1236},{"i":186,"t":0,"p":0},{"i":187,"t":300,"p":400},{"i":188,"t":600,"p":800},{"i":189,"t":400,"p":500},{"i":190,"t":800,"p":990},{"i":191,"t":300,"p":400},{"i":192,"t":100,"p":200},{"i":193,"t":500,"p":600},{"i":194,"t":700,"p":800},{"i":195,"t":900,"p":990},{"i":196,"t":300,"p":400},{"i":197,"t":1000,"p":1500},{"i":198,"t":2200,"p":2710},{"i":199,"t":4000,"p":4553},{"i":200,"t":6947,"p":7930},{"i":201,"t":9500,"p":9000},{"i":202,"t":10816,"p":9404},{"i":203,"t":11492,"p":10509},{"i":204,"t":9588,"p":10448},{"i":205,"t":8500,"p":8800},{"i":206,"t":7745,"p":7622},{"i":207,"t":5289,"p":5289},{"i":208,"t":2710,"p":2710},{"i":209,"t":1850,"p":1850},{"i":210,"t":1200,"p":1300},{"i":211,"t":745,"p":745},{"i":212,"t":1000,"p":1400},{"i":213,"t":1300,"p":1700},{"i":214,"t":800,"p":1000},{"i":215,"t":1500,"p":1800},{"i":216,"t":1700,"p":2000},{"i":217,"t":900,"p":1200},{"i":218,"t":1800,"p":2200},{"i":219,"t":1200,"p":1500},{"i":220,"t":0,"p":0},{"i":221,"t":800,"p":1200},{"i":222,"t":2000,"p":2526},{"i":223,"t":3500,"p":3800},{"i":224,"t":4184,"p":4184},{"i":225,"t":5473,"p":6148},{"i":226,"t":7622,"p":5228},{"i":227,"t":8237,"p":6394},{"i":228,"t":8000,"p":6700},{"i":229,"t":7745,"p":7070},{"i":230,"t":6210,"p":6210},{"i":231,"t":5000,"p":5000},{"i":232,"t":4123,"p":4123},{"i":233,"t":745,"p":745},{"i":234,"t":300,"p":400},{"i":235,"t":100,"p":200},{"i":236,"t":500,"p":600},{"i":237,"t":200,"p":300},{"i":238,"t":600,"p":700},{"i":239,"t":100,"p":200},{"i":240,"t":400,"p":500},{"i":241,"t":200,"p":300},{"i":242,"t":500,"p":600},{"i":243,"t":100,"p":100},{"i":244,"t":300,"p":400},{"i":245,"t":800,"p":900},{"i":246,"t":1113,"p":1113},{"i":247,"t":3080,"p":4184},{"i":248,"t":7745,"p":6026},{"i":249,"t":9000,"p":6500},{"i":250,"t":10000,"p":7070},{"i":251,"t":10939,"p":8606},{"i":252,"t":12044,"p":9404},{"i":253,"t":10693,"p":8360},{"i":254,"t":9000,"p":7500},{"i":255,"t":7254,"p":6456},{"i":256,"t":3631,"p":3631},{"i":257,"t":1358,"p":1358},{"i":258,"t":700,"p":800},{"i":259,"t":377,"p":377},{"i":260,"t":200,"p":300},{"i":261,"t":500,"p":600},{"i":262,"t":300,"p":400},{"i":263,"t":100,"p":200},{"i":264,"t":400,"p":500},{"i":265,"t":200,"p":300},{"i":266,"t":600,"p":700},{"i":267,"t":800,"p":1000},{"i":268,"t":1911,"p":1911},{"i":269,"t":2833,"p":2833},{"i":270,"t":4245,"p":4245},{"i":271,"t":5535,"p":5535},{"i":272,"t":6500,"p":6400},{"i":273,"t":7008,"p":6947},{"i":274,"t":6500,"p":6271},{"i":275,"t":5105,"p":5105},{"i":276,"t":4500,"p":4500},{"i":277,"t":3938,"p":3938},{"i":278,"t":2465,"p":2465},{"i":279,"t":1800,"p":1800},{"i":280,"t":1113,"p":1113},{"i":281,"t":0,"p":0},{"i":282,"t":300,"p":400},{"i":283,"t":600,"p":700},{"i":284,"t":200,"p":300},{"i":285,"t":1500,"p":1800},{"i":286,"t":2200,"p":2526},{"i":287,"t":1500,"p":1800},{"i":288,"t":700,"p":800},{"i":289,"t":200,"p":300},{"i":290,"t":500,"p":600},{"i":291,"t":300,"p":400},{"i":292,"t":100,"p":200},{"i":293,"t":600,"p":700},{"i":294,"t":1200,"p":1400},{"i":295,"t":1973,"p":1973},{"i":296,"t":3080,"p":3080},{"i":297,"t":5000,"p":4500},{"i":298,"t":8053,"p":5658},{"i":299,"t":10264,"p":7315},{"i":300,"t":9220,"p":8483},{"i":301,"t":8500,"p":8000},{"i":302,"t":7622,"p":7622},{"i":303,"t":4184,"p":4184},{"i":304,"t":1298,"p":1298},{"i":305,"t":900,"p":1000},{"i":306,"t":700,"p":800},{"i":307,"t":620,"p":620},{"i":308,"t":200,"p":300},{"i":309,"t":100,"p":200},{"i":310,"t":400,"p":500},{"i":311,"t":200,"p":300},{"i":312,"t":600,"p":700},{"i":313,"t":300,"p":400},{"i":314,"t":100,"p":200},{"i":315,"t":500,"p":600},{"i":316,"t":1500,"p":1800},{"i":317,"t":3018,"p":3018},{"i":318,"t":4000,"p":4000},{"i":319,"t":4614,"p":4614},{"i":320,"t":7438,"p":7254},{"i":321,"t":7561,"p":9588},{"i":322,"t":7500,"p":8237},{"i":323,"t":7480,"p":7500},{"i":324,"t":7438,"p":6886},{"i":325,"t":7193,"p":6026},{"i":326,"t":4614,"p":5412},{"i":327,"t":3500,"p":3500},{"i":328,"t":2588,"p":2588},{"i":329,"t":0,"p":0},{"i":330,"t":300,"p":400},{"i":331,"t":600,"p":700},{"i":332,"t":200,"p":300},{"i":333,"t":500,"p":600},{"i":334,"t":100,"p":200},{"i":335,"t":700,"p":800},{"i":336,"t":400,"p":500},{"i":337,"t":200,"p":300},{"i":338,"t":800,"p":900},{"i":339,"t":300,"p":400},{"i":340,"t":100,"p":200},{"i":341,"t":500,"p":600},{"i":342,"t":1200,"p":1400},{"i":343,"t":2000,"p":2588},{"i":344,"t":4982,"p":3448},{"i":345,"t":5166,"p":3938},{"i":346,"t":5400,"p":4200},{"i":347,"t":5719,"p":4614},{"i":348,"t":5228,"p":3938},{"i":349,"t":4000,"p":3500},{"i":350,"t":3141,"p":3141},{"i":351,"t":1481,"p":1481},{"i":352,"t":800,"p":800},{"i":353,"t":300,"p":300},{"i":354,"t":205,"p":205},{"i":355,"t":500,"p":600},{"i":356,"t":200,"p":300},{"i":357,"t":600,"p":700},{"i":358,"t":100,"p":200},{"i":359,"t":400,"p":500},{"i":360,"t":300,"p":400},{"i":361,"t":700,"p":800},{"i":362,"t":200,"p":300},{"i":363,"t":500,"p":600},{"i":364,"t":1200,"p":1400},{"i":365,"t":2710,"p":2710},{"i":366,"t":3000,"p":3000},{"i":367,"t":3400,"p":3400},{"i":368,"t":3693,"p":3693},{"i":369,"t":4430,"p":4860},{"i":370,"t":4700,"p":4553},{"i":371,"t":3500,"p":3500},{"i":372,"t":2955,"p":2955},{"i":373,"t":1973,"p":1973},{"i":374,"t":990,"p":990},{"i":375,"t":300,"p":400},{"i":376,"t":100,"p":200},{"i":377,"t":500,"p":600},{"i":378,"t":200,"p":300},{"i":379,"t":600,"p":700},{"i":380,"t":100,"p":200},{"i":381,"t":400,"p":500},{"i":382,"t":700,"p":800},{"i":383,"t":200,"p":300},{"i":384,"t":500,"p":600},{"i":385,"t":100,"p":200},{"i":386,"t":400,"p":500},{"i":387,"t":800,"p":900},{"i":388,"t":990,"p":990},{"i":389,"t":1500,"p":1800},{"i":390,"t":2465,"p":2465},{"i":391,"t":2772,"p":3570}
    ],
    "d": [
      {"i":0,"t":258,"p":422},{"i":1,"t":200,"p":350},{"i":2,"t":149,"p":367},{"i":3,"t":300,"p":600},{"i":4,"t":200,"p":805},{"i":5,"t":150,"p":230},{"i":6,"t":100,"p":94},{"i":7,"t":600,"p":700},{"i":8,"t":777,"p":914},{"i":9,"t":1407,"p":1680},{"i":10,"t":2884,"p":3458},{"i":11,"t":3157,"p":3814},{"i":12,"t":3322,"p":3978},{"i":13,"t":3705,"p":4416},{"i":14,"t":4580,"p":4853},{"i":15,"t":4580,"p":5483},{"i":16,"t":3650,"p":4388},{"i":17,"t":200,"p":476},{"i":18,"t":100,"p":94},{"i":20,"t":150,"p":300},{"i":22,"t":200,"p":400},{"i":24,"t":250,"p":750},{"i":25,"t":200,"p":500},{"i":26,"t":300,"p":914},{"i":27,"t":250,"p":400},{"i":28,"t":300,"p":500},{"i":30,"t":800,"p":1954},{"i":31,"t":2556,"p":3075},{"i":32,"t":4635,"p":5510},{"i":33,"t":4700,"p":5619},{"i":34,"t":4717,"p":5619},{"i":35,"t":4600,"p":5500},{"i":36,"t":4416,"p":5318},{"i":37,"t":3500,"p":4306},{"i":38,"t":2446,"p":2966},{"i":39,"t":1598,"p":1926},{"i":40,"t":800,"p":900},{"i":41,"t":200,"p":367},{"i":42,"t":150,"p":300},{"i":44,"t":150,"p":400},{"i":46,"t":200,"p":500},{"i":48,"t":150,"p":832},{"i":49,"t":120,"p":400},{"i":50,"t":150,"p":450},{"i":52,"t":180,"p":420},{"i":54,"t":200,"p":500},{"i":55,"t":1000,"p":1500},{"i":56,"t":2000,"p":2173},{"i":57,"t":3212,"p":3841},{"i":58,"t":3978,"p":4771},{"i":59,"t":3800,"p":4580},{"i":60,"t":3500,"p":4361},{"i":61,"t":2391,"p":2884},{"i":62,"t":1800,"p":2200},{"i":63,"t":1500,"p":1844},{"i":64,"t":800,"p":1078},{"i":65,"t":150,"p":230},{"i":66,"t":200,"p":400},{"i":67,"t":150,"p":586},{"i":68,"t":120,"p":300},{"i":70,"t":200,"p":450},{"i":72,"t":150,"p":586},{"i":74,"t":200,"p":300},{"i":76,"t":150,"p":650},{"i":78,"t":600,"p":800},{"i":79,"t":1000,"p":1188},{"i":80,"t":2227,"p":2446},{"i":81,"t":2665,"p":2966},{"i":82,"t":2600,"p":2800},{"i":83,"t":2700,"p":2774},{"i":84,"t":2300,"p":2500},{"i":85,"t":1900,"p":2173},{"i":86,"t":1200,"p":1352},{"i":87,"t":531,"p":695},{"i":88,"t":400,"p":600},{"i":89,"t":800,"p":1243},{"i":90,"t":600,"p":800},{"i":91,"t":1500,"p":1790},{"i":92,"t":900,"p":1100},{"i":93,"t":500,"p":750},{"i":94,"t":400,"p":600},{"i":96,"t":500,"p":750},{"i":97,"t":700,"p":969},{"i":98,"t":500,"p":700},{"i":100,"t":400,"p":695},{"i":102,"t":200,"p":312},{"i":103,"t":500,"p":860},{"i":104,"t":2747,"p":3322},{"i":105,"t":2884,"p":3431},{"i":106,"t":2600,"p":3100},{"i":107,"t":2500,"p":2939},{"i":108,"t":2009,"p":2173},{"i":109,"t":1600,"p":1844},{"i":110,"t":1500,"p":1735},{"i":111,"t":1400,"p":1680},{"i":112,"t":1600,"p":1900},{"i":113,"t":1800,"p":2200},{"i":114,"t":500,"p":800},{"i":115,"t":258,"p":586},{"i":116,"t":300,"p":600},{"i":118,"t":400,"p":700},{"i":120,"t":350,"p":805},{"i":122,"t":300,"p":650},{"i":124,"t":450,"p":700},{"i":126,"t":350,"p":600},{"i":127,"t":1000,"p":1200},{"i":128,"t":1200,"p":1462},{"i":129,"t":1407,"p":1844},{"i":130,"t":1844,"p":2200},{"i":131,"t":1300,"p":1462},{"i":132,"t":1188,"p":1407},{"i":133,"t":1100,"p":1300},{"i":134,"t":900,"p":1188},{"i":135,"t":500,"p":700},{"i":136,"t":100,"p":149},{"i":138,"t":150,"p":400},{"i":140,"t":200,"p":600},{"i":141,"t":150,"p":695},{"i":142,"t":120,"p":300},{"i":144,"t":150,"p":500},{"i":146,"t":200,"p":750},{"i":148,"t":150,"p":300},{"i":150,"t":200,"p":500},{"i":152,"t":1100,"p":1325},{"i":153,"t":1762,"p":2118},{"i":154,"t":2829,"p":3431},{"i":155,"t":2900,"p":3500},{"i":156,"t":3048,"p":3622},{"i":157,"t":3048,"p":3650},{"i":158,"t":3048,"p":3677},{"i":159,"t":2000,"p":2309},{"i":160,"t":900,"p":1078},{"i":161,"t":400,"p":586},{"i":162,"t":150,"p":300},{"i":163,"t":100,"p":149},{"i":164,"t":150,"p":500},{"i":166,"t":200,"p":750},{"i":168,"t":150,"p":300},{"i":170,"t":200,"p":600},{"i":172,"t":150,"p":400},{"i":174,"t":200,"p":650},{"i":176,"t":1735,"p":2063},{"i":177,"t":2300,"p":2665},{"i":178,"t":3431,"p":4087},{"i":179,"t":3800,"p":4500},{"i":180,"t":4033,"p":4744},{"i":181,"t":3700,"p":4087},{"i":182,"t":3431,"p":4635},{"i":183,"t":3000,"p":4000},{"i":184,"t":3000,"p":3978},{"i":185,"t":100,"p":203},{"i":186,"t":150,"p":400},{"i":188,"t":200,"p":832},{"i":190,"t":150,"p":500},{"i":192,"t":200,"p":700},{"i":194,"t":250,"p":914},{"i":196,"t":200,"p":500},{"i":198,"t":300,"p":700},{"i":199,"t":1000,"p":1500},{"i":200,"t":1762,"p":2145},{"i":201,"t":5154,"p":6194},{"i":202,"t":5510,"p":6577},{"i":203,"t":6276,"p":7425},{"i":204,"t":6300,"p":7572},{"i":205,"t":5510,"p":6331},{"i":206,"t":4416,"p":5291},{"i":207,"t":3568,"p":4279},{"i":208,"t":1598,"p":1926},{"i":209,"t":100,"p":149},{"i":210,"t":150,"p":400},{"i":212,"t":200,"p":600},{"i":214,"t":150,"p":695},{"i":216,"t":200,"p":500},{"i":218,"t":150,"p":650},{"i":220,"t":250,"p":400},{"i":222,"t":300,"p":700},{"i":223,"t":1926,"p":2309},{"i":224,"t":4717,"p":5674},{"i":225,"t":5619,"p":6686},{"i":226,"t":5674,"p":6779},{"i":227,"t":5674,"p":6779},{"i":228,"t":5182,"p":6194},{"i":229,"t":3814,"p":4580},{"i":230,"t":3000,"p":3513},{"i":231,"t":2446,"p":2966},{"i":232,"t":150,"p":258},{"i":234,"t":200,"p":500},{"i":236,"t":150,"p":650},{"i":238,"t":200,"p":400},{"i":240,"t":150,"p":600},{"i":242,"t":200,"p":450},{"i":244,"t":250,"p":650},{"i":246,"t":1000,"p":1200},{"i":247,"t":1762,"p":2418},{"i":248,"t":4279,"p":5127},{"i":249,"t":3540,"p":3814},{"i":250,"t":2500,"p":2993},{"i":251,"t":2118,"p":2556},{"i":252,"t":2000,"p":2300},{"i":253,"t":1900,"p":2200},{"i":254,"t":1100,"p":1325},{"i":255,"t":500,"p":750},{"i":256,"t":100,"p":300},{"i":258,"t":120,"p":600},{"i":260,"t":100,"p":400},{"i":262,"t":150,"p":650},{"i":264,"t":100,"p":300},{"i":266,"t":150,"p":700},{"i":268,"t":100,"p":400},{"i":270,"t":200,"p":500},{"i":272,"t":2227,"p":2665},{"i":273,"t":3000,"p":3500},{"i":274,"t":3212,"p":3841},{"i":275,"t":4388,"p":5291},{"i":276,"t":3900,"p":4600},{"i":277,"t":3431,"p":4142},{"i":278,"t":2528,"p":3048},{"i":279,"t":1598,"p":1954},{"i":280,"t":500,"p":668},{"i":282,"t":150,"p":400},{"i":284,"t":200,"p":650},{"i":286,"t":150,"p":400},{"i":288,"t":200,"p":700},{"i":290,"t":150,"p":350},{"i":292,"t":200,"p":500},{"i":294,"t":300,"p":600},{"i":295,"t":1500,"p":1790},{"i":296,"t":1300,"p":1600},{"i":297,"t":1215,"p":1462},{"i":298,"t":1200,"p":1400},{"i":299,"t":1100,"p":1243},{"i":300,"t":700,"p":900},{"i":301,"t":600,"p":832},{"i":302,"t":300,"p":600},{"i":304,"t":200,"p":500},{"i":306,"t":150,"p":700},{"i":308,"t":200,"p":350},{"i":310,"t":150,"p":600},{"i":312,"t":200,"p":400},{"i":314,"t":150,"p":500},{"i":316,"t":200,"p":300},{"i":318,"t":300,"p":500},{"i":319,"t":1200,"p":1407},{"i":320,"t":1500,"p":1762},{"i":321,"t":1600,"p":1900},{"i":322,"t":1680,"p":2009},{"i":323,"t":1600,"p":1800},{"i":324,"t":1500,"p":1680},{"i":325,"t":1000,"p":1160},{"i":326,"t":700,"p":900},{"i":327,"t":500,"p":750},{"i":328,"t":300,"p":500},{"i":330,"t":400,"p":800},{"i":332,"t":350,"p":600},{"i":334,"t":500,"p":700},{"i":336,"t":800,"p":1000},{"i":337,"t":1400,"p":1653},{"i":338,"t":1300,"p":1543},{"i":339,"t":1100,"p":1300},{"i":340,"t":900,"p":1024},{"i":341,"t":700,"p":900},{"i":342,"t":600,"p":800},{"i":344,"t":900,"p":1078},{"i":345,"t":1000,"p":1188},{"i":346,"t":700,"p":900},{"i":347,"t":1700,"p":2009},{"i":348,"t":2000,"p":2400},{"i":349,"t":2391,"p":2884},{"i":350,"t":2400,"p":2800},{"i":351,"t":2200,"p":2692},{"i":352,"t":1800,"p":2145},{"i":353,"t":300,"p":531},{"i":354,"t":150,"p":400},{"i":356,"t":100,"p":300},{"i":358,"t":150,"p":500},{"i":360,"t":100,"p":250},{"i":362,"t":150,"p":500},{"i":364,"t":200,"p":1243},{"i":365,"t":150,"p":400},{"i":366,"t":100,"p":250},{"i":368,"t":600,"p":969},{"i":369,"t":1200,"p":1300},{"i":370,"t":1400,"p":1543},{"i":371,"t":1600,"p":1844},{"i":372,"t":1735,"p":2091},{"i":373,"t":1600,"p":1790},{"i":374,"t":1200,"p":1352},{"i":375,"t":800,"p":1024},{"i":376,"t":200,"p":449},{"i":378,"t":150,"p":450},{"i":380,"t":120,"p":550},{"i":382,"t":150,"p":400},{"i":384,"t":120,"p":500},{"i":386,"t":150,"p":586},{"i":388,"t":120,"p":450},{"i":390,"t":150,"p":500},{"i":391,"t":200,"p":400},{"i":392,"t":1188,"p":1434}
    ],
    "e": [
      {"i":0,"t":40,"p":112},{"i":1,"t":50,"p":150},{"i":2,"t":40,"p":214},{"i":3,"t":50,"p":150},{"i":4,"t":40,"p":200},{"i":5,"t":60,"p":112},{"i":6,"t":100,"p":150},{"i":7,"t":653,"p":536},{"i":8,"t":1238,"p":989},{"i":9,"t":1800,"p":1300},{"i":10,"t":2159,"p":1530},{"i":11,"t":3256,"p":2501},{"i":12,"t":2948,"p":2305},{"i":13,"t":2200,"p":1900},{"i":14,"t":1808,"p":1706},{"i":15,"t":1200,"p":1428},{"i":16,"t":500,"p":945},{"i":17,"t":200,"p":419},{"i":18,"t":40,"p":100},{"i":20,"t":60,"p":150},{"i":22,"t":40,"p":100},{"i":24,"t":80,"p":185},{"i":26,"t":40,"p":100},{"i":28,"t":60,"p":150},{"i":30,"t":50,"p":244},{"i":31,"t":1100,"p":800},{"i":32,"t":1647,"p":1340},{"i":33,"t":2232,"p":1808},{"i":34,"t":2305,"p":1618},{"i":35,"t":2641,"p":2057},{"i":36,"t":3000,"p":2042},{"i":37,"t":3533,"p":2200},{"i":38,"t":3533,"p":2685},{"i":39,"t":1983,"p":1983},{"i":40,"t":989,"p":697},{"i":41,"t":300,"p":200},{"i":42,"t":50,"p":97},{"i":44,"t":100,"p":150},{"i":46,"t":50,"p":180},{"i":48,"t":80,"p":120},{"i":50,"t":200,"p":302},{"i":52,"t":250,"p":317},{"i":54,"t":150,"p":200},{"i":55,"t":1969,"p":1545},{"i":56,"t":2992,"p":2305},{"i":57,"t":3500,"p":2700},{"i":58,"t":3709,"p":2948},{"i":59,"t":3694,"p":2773},{"i":60,"t":3314,"p":2510},{"i":61,"t":3007,"p":2305},{"i":62,"t":2100,"p":1545},{"i":63,"t":594,"p":390},{"i":64,"t":200,"p":250},{"i":65,"t":100,"p":185},{"i":66,"t":50,"p":150},{"i":68,"t":80,"p":100},{"i":70,"t":40,"p":150},{"i":72,"t":100,"p":200},{"i":74,"t":50,"p":120},{"i":76,"t":80,"p":180},{"i":78,"t":60,"p":150},{"i":80,"t":1252,"p":916},{"i":81,"t":1500,"p":1100},{"i":82,"t":1837,"p":1384},{"i":83,"t":1852,"p":1472},{"i":84,"t":1486,"p":1135},{"i":85,"t":1000,"p":800},{"i":86,"t":900,"p":741},{"i":87,"t":1208,"p":1062},{"i":88,"t":507,"p":390},{"i":89,"t":300,"p":300},{"i":90,"t":273,"p":273},{"i":91,"t":229,"p":229},{"i":92,"t":1500,"p":1200},{"i":93,"t":3378,"p":2612},{"i":94,"t":2144,"p":1267},{"i":95,"t":1600,"p":1200},{"i":96,"t":1062,"p":1676},{"i":97,"t":900,"p":1100},{"i":98,"t":600,"p":463},{"i":99,"t":300,"p":200},{"i":100,"t":39,"p":39},{"i":102,"t":100,"p":127},{"i":104,"t":200,"p":302},{"i":106,"t":300,"p":400},{"i":107,"t":600,"p":580},{"i":108,"t":1033,"p":872},{"i":109,"t":1100,"p":850},{"i":110,"t":1165,"p":901},{"i":111,"t":1004,"p":828},{"i":112,"t":600,"p":565},{"i":113,"t":200,"p":200},{"i":114,"t":50,"p":150},{"i":116,"t":80,"p":200},{"i":118,"t":40,"p":100},{"i":120,"t":60,"p":244},{"i":122,"t":50,"p":150},{"i":124,"t":80,"p":244},{"i":126,"t":60,"p":150},{"i":128,"t":150,"p":300},{"i":129,"t":600,"p":565},{"i":130,"t":1384,"p":1121},{"i":131,"t":2057,"p":1749},{"i":132,"t":2247,"p":1384},{"i":133,"t":1300,"p":1062},{"i":134,"t":900,"p":828},{"i":135,"t":600,"p":600},{"i":136,"t":400,"p":492},{"i":137,"t":100,"p":150},{"i":138,"t":50,"p":100},{"i":140,"t":80,"p":200},{"i":142,"t":40,"p":150},{"i":144,"t":100,"p":250},{"i":146,"t":50,"p":120},{"i":148,"t":80,"p":200},{"i":150,"t":60,"p":150},{"i":152,"t":400,"p":580},{"i":153,"t":800,"p":750},{"i":154,"t":1092,"p":975},{"i":155,"t":2042,"p":1662},{"i":156,"t":2422,"p":1866},{"i":157,"t":2408,"p":1896},{"i":158,"t":1700,"p":1472},{"i":159,"t":1200,"p":1033},{"i":160,"t":500,"p":419},{"i":161,"t":100,"p":150},{"i":162,"t":50,"p":100},{"i":164,"t":80,"p":200},{"i":166,"t":40,"p":120},{"i":168,"t":100,"p":200},{"i":170,"t":200,"p":317},{"i":172,"t":60,"p":150},{"i":174,"t":50,"p":120},{"i":176,"t":300,"p":624},{"i":177,"t":1208,"p":1033},{"i":178,"t":3168,"p":2378},{"i":179,"t":2000,"p":1764},{"i":180,"t":3890,"p":2948},{"i":181,"t":2000,"p":1764},{"i":182,"t":3285,"p":2466},{"i":183,"t":975,"p":872},{"i":184,"t":500,"p":400},{"i":185,"t":244,"p":244},{"i":186,"t":100,"p":150},{"i":188,"t":80,"p":200},{"i":190,"t":60,"p":150},{"i":192,"t":100,"p":180},{"i":194,"t":50,"p":150},{"i":196,"t":80,"p":200},{"i":198,"t":60,"p":150},{"i":200,"t":346,"p":346},{"i":201,"t":3519,"p":2641},{"i":202,"t":2524,"p":1969},{"i":203,"t":2800,"p":2524},{"i":204,"t":3519,"p":2232},{"i":205,"t":2729,"p":2174},{"i":206,"t":2000,"p":1618},{"i":207,"t":1200,"p":1000},{"i":208,"t":668,"p":668},{"i":209,"t":24,"p":24},{"i":210,"t":50,"p":100},{"i":212,"t":40,"p":150},{"i":214,"t":80,"p":100},{"i":216,"t":50,"p":180},{"i":218,"t":40,"p":120},{"i":220,"t":60,"p":150},{"i":222,"t":80,"p":200},{"i":224,"t":500,"p":521},{"i":225,"t":1749,"p":1296},{"i":226,"t":2349,"p":1749},{"i":227,"t":1969,"p":1457},{"i":228,"t":1400,"p":1194},{"i":229,"t":1000,"p":858},{"i":230,"t":500,"p":500},{"i":231,"t":317,"p":317},{"i":232,"t":100,"p":150},{"i":234,"t":50,"p":200},{"i":236,"t":80,"p":150},{"i":238,"t":40,"p":250},{"i":240,"t":60,"p":150},{"i":242,"t":80,"p":200},{"i":244,"t":50,"p":120},{"i":246,"t":60,"p":150},{"i":248,"t":1300,"p":1208},{"i":249,"t":2057,"p":1574},{"i":250,"t":1969,"p":1603},{"i":251,"t":1600,"p":1369},{"i":252,"t":1200,"p":931},{"i":253,"t":900,"p":682},{"i":254,"t":500,"p":500},{"i":255,"t":375,"p":375},{"i":256,"t":100,"p":150},{"i":258,"t":50,"p":200},{"i":260,"t":80,"p":150},{"i":262,"t":40,"p":100},{"i":264,"t":60,"p":200},{"i":266,"t":40,"p":150},{"i":268,"t":80,"p":120},{"i":270,"t":100,"p":200},{"i":272,"t":600,"p":463},{"i":273,"t":1545,"p":1018},{"i":274,"t":1311,"p":1004},{"i":275,"t":1000,"p":799},{"i":276,"t":900,"p":770},{"i":277,"t":800,"p":741},{"i":278,"t":901,"p":741},{"i":279,"t":800,"p":712},{"i":280,"t":200,"p":200},{"i":282,"t":100,"p":150},{"i":284,"t":50,"p":200},{"i":286,"t":80,"p":120},{"i":288,"t":40,"p":150},{"i":290,"t":60,"p":200},{"i":292,"t":80,"p":150},{"i":294,"t":100,"p":180},{"i":296,"t":300,"p":360},{"i":298,"t":350,"p":330},{"i":300,"t":380,"p":360},{"i":302,"t":300,"p":320},{"i":304,"t":350,"p":360},{"i":306,"t":100,"p":150},{"i":308,"t":50,"p":100},{"i":310,"t":80,"p":200},{"i":312,"t":40,"p":120},{"i":314,"t":60,"p":150},{"i":316,"t":80,"p":200},{"i":318,"t":100,"p":150},{"i":320,"t":300,"p":400},{"i":321,"t":800,"p":784},{"i":322,"t":1559,"p":1223},{"i":323,"t":1296,"p":1033},{"i":324,"t":1100,"p":945},{"i":325,"t":900,"p":741},{"i":326,"t":500,"p":375},{"i":327,"t":200,"p":200},{"i":328,"t":50,"p":100},{"i":330,"t":80,"p":150},{"i":332,"t":40,"p":200},{"i":334,"t":60,"p":100},{"i":336,"t":80,"p":150},{"i":338,"t":100,"p":250},{"i":339,"t":600,"p":682},{"i":340,"t":700,"p":668},{"i":341,"t":10,"p":185},{"i":342,"t":50,"p":185},{"i":343,"t":2115,"p":1691},{"i":344,"t":1200,"p":1000},{"i":345,"t":900,"p":814},{"i":346,"t":1500,"p":1200},{"i":347,"t":2071,"p":1530},{"i":348,"t":700,"p":507},{"i":349,"t":600,"p":594},{"i":350,"t":302,"p":302},{"i":351,"t":150,"p":200},{"i":352,"t":100,"p":150},{"i":354,"t":60,"p":200},{"i":356,"t":80,"p":300},{"i":358,"t":50,"p":150},{"i":360,"t":100,"p":250},{"i":362,"t":80,"p":200},{"i":364,"t":150,"p":300},{"i":366,"t":478,"p":478},{"i":368,"t":500,"p":500},{"i":369,"t":536,"p":536},{"i":370,"t":550,"p":550},{"i":371,"t":600,"p":565},{"i":372,"t":828,"p":697},{"i":373,"t":500,"p":419},{"i":374,"t":302,"p":302},{"i":375,"t":100,"p":150},{"i":376,"t":50,"p":100},{"i":378,"t":80,"p":200},{"i":380,"t":40,"p":150},{"i":382,"t":60,"p":200},{"i":384,"t":50,"p":120},{"i":386,"t":80,"p":200},{"i":388,"t":40,"p":150},{"i":390,"t":60,"p":150},{"i":392,"t":434,"p":273}
    ]
  },
  "columns": 2,
  "spacing": {"row": 26, "column": 71},
  "resolve": {"scale": {"color": "independent"}},
  "concat": [
    {
      "width": 1669, "height": 1341,
      "data": {"name": "a"},
      "title": {"text": "(a)", "orient": "top", "anchor": "start", "frame": "group", "offset": -32, "dx": -294, "fontSize": 82, "fontWeight": "bold", "color": "black"},
      "transform": [{"fold": ["t", "p"], "as": ["s", "v"]}],
      "encoding": {
        "x": {"field": "i", "type": "quantitative", "scale": {"domain": [-50, 450], "nice": false, "zero": false}, "axis": {"title": "Sample Index", "values": [0, 100, 200, 300, 400], "format": "d"}},
        "y": {"field": "v", "type": "quantitative", "scale": {"domain": [-500, 4500], "nice": false, "zero": false}, "axis": {"title": "MTR (birds/(km·h))", "values": [0, 1000, 2000, 3000, 4000], "format": ",d"}},
        "color": {"field": "s", "type": "nominal", "scale": {"domain": ["t", "p"], "range": ["#a45efc", "#0a807b"]},
          "legend": {"title": null, "orient": "top-right", "offset": 30, "labelExpr": "datum.value === 't' ? 'True Values' : 'Predicted Values'", "labelFontSize": 57, "labelFontWeight": "bold", "labelColor": "black", "labelOffset": 51, "labelLimit": 1000, "symbolType": "M-2.2,0H2.2M0,-0.27L0.17,0L0,0.27L-0.17,0Z", "symbolSize": 3600, "symbolStrokeWidth": 6, "rowPadding": 10, "padding": 0,
            "encode": {"symbols": {"update": {"fill": {"signal": "datum.value === 't' ? '#a45efc' : '#0a807b'"}, "stroke": {"signal": "datum.value === 't' ? '#a45efc' : '#0a807b'"}, "opacity": {"value": 1}}}}}}
      },
      "layer": [
        {"transform": [{"filter": "datum.s === 't'"}], "mark": {"type": "line", "strokeWidth": 5}, "encoding": {}},
        {"transform": [{"filter": "datum.s === 't'"}], "mark": {"type": "point", "shape": "M0,-1L0.8,0L0,1L-0.8,0Z", "filled": true, "size": 300, "opacity": 1}},
        {"transform": [{"filter": "datum.s === 'p'"}], "mark": {"type": "line", "strokeWidth": 5}, "encoding": {}},
        {"transform": [{"filter": "datum.s === 'p'"}], "mark": {"type": "point", "shape": "M0,-1L0.8,0L0,1L-0.8,0Z", "filled": true, "size": 300, "opacity": 1}}
      ]
    },
    {
      "width": 1669, "height": 1341,
      "data": {"name": "b"},
      "title": {"text": "(b)", "orient": "top", "anchor": "start", "frame": "group", "offset": -32, "dx": -294, "fontSize": 82, "fontWeight": "bold", "color": "black"},
      "transform": [{"fold": ["t", "p"], "as": ["s", "v"]}],
      "encoding": {
        "x": {"field": "i", "type": "quantitative", "scale": {"domain": [-50, 450], "nice": false, "zero": false}, "axis": {"title": "Sample Index", "values": [0, 100, 200, 300, 400], "format": "d"}},
        "y": {"field": "v", "type": "quantitative", "scale": {"domain": [-250, 1750], "nice": false, "zero": false}, "axis": {"title": "MTR (birds/(km·h))", "values": [0, 500, 1000, 1500], "format": ",d"}},
        "color": {"field": "s", "type": "nominal", "scale": {"domain": ["t", "p"], "range": ["#a45efc", "#0a807b"]},
          "legend": {"title": null, "orient": "top-right", "offset": 30, "labelExpr": "datum.value === 't' ? 'True Values' : 'Predicted Values'", "labelFontSize": 57, "labelFontWeight": "bold", "labelColor": "black", "labelOffset": 51, "labelLimit": 1000, "symbolType": "M-2.2,0H2.2M0,-0.27L0.17,0L0,0.27L-0.17,0Z", "symbolSize": 3600, "symbolStrokeWidth": 6, "rowPadding": 10, "padding": 0,
            "encode": {"symbols": {"update": {"fill": {"signal": "datum.value === 't' ? '#a45efc' : '#0a807b'"}, "stroke": {"signal": "datum.value === 't' ? '#a45efc' : '#0a807b'"}, "opacity": {"value": 1}}}}}}
      },
      "layer": [
        {"transform": [{"filter": "datum.s === 't'"}], "mark": {"type": "line", "strokeWidth": 5}, "encoding": {}},
        {"transform": [{"filter": "datum.s === 't'"}], "mark": {"type": "point", "shape": "M0,-1L0.8,0L0,1L-0.8,0Z", "filled": true, "size": 300, "opacity": 1}},
        {"transform": [{"filter": "datum.s === 'p'"}], "mark": {"type": "line", "strokeWidth": 5}, "encoding": {}},
        {"transform": [{"filter": "datum.s === 'p'"}], "mark": {"type": "point", "shape": "M0,-1L0.8,0L0,1L-0.8,0Z", "filled": true, "size": 300, "opacity": 1}}
      ]
    },
    {
      "width": 1669, "height": 1341,
      "data": {"name": "c"},
      "title": {"text": "(c)", "orient": "top", "anchor": "start", "frame": "group", "offset": -32, "dx": -294, "fontSize": 82, "fontWeight": "bold", "color": "black"},
      "transform": [{"fold": ["t", "p"], "as": ["s", "v"]}],
      "encoding": {
        "x": {"field": "i", "type": "quantitative", "scale": {"domain": [-50, 450], "nice": false, "zero": false}, "axis": {"title": "Sample Index", "values": [0, 100, 200, 300, 400], "format": "d"}},
        "y": {"field": "v", "type": "quantitative", "scale": {"domain": [-2000, 19000], "nice": false, "zero": false}, "axis": {"title": "MTR (birds/(km·h))", "values": [0, 4000, 8000, 12000, 16000], "format": ",d"}},
        "color": {"field": "s", "type": "nominal", "scale": {"domain": ["t", "p"], "range": ["#a45efc", "#0a807b"]},
          "legend": {"title": null, "orient": "top-right", "offset": 30, "labelExpr": "datum.value === 't' ? 'True Values' : 'Predicted Values'", "labelFontSize": 57, "labelFontWeight": "bold", "labelColor": "black", "labelOffset": 51, "labelLimit": 1000, "symbolType": "M-2.2,0H2.2M0,-0.27L0.17,0L0,0.27L-0.17,0Z", "symbolSize": 3600, "symbolStrokeWidth": 6, "rowPadding": 10, "padding": 0,
            "encode": {"symbols": {"update": {"fill": {"signal": "datum.value === 't' ? '#a45efc' : '#0a807b'"}, "stroke": {"signal": "datum.value === 't' ? '#a45efc' : '#0a807b'"}, "opacity": {"value": 1}}}}}}
      },
      "layer": [
        {"transform": [{"filter": "datum.s === 't'"}], "mark": {"type": "line", "strokeWidth": 5}, "encoding": {}},
        {"transform": [{"filter": "datum.s === 't'"}], "mark": {"type": "point", "shape": "M0,-1L0.8,0L0,1L-0.8,0Z", "filled": true, "size": 300, "opacity": 1}},
        {"transform": [{"filter": "datum.s === 'p'"}], "mark": {"type": "line", "strokeWidth": 5}, "encoding": {}},
        {"transform": [{"filter": "datum.s === 'p'"}], "mark": {"type": "point", "shape": "M0,-1L0.8,0L0,1L-0.8,0Z", "filled": true, "size": 300, "opacity": 1}}
      ]
    },
    {
      "width": 1669, "height": 1341,
      "data": {"name": "d"},
      "title": {"text": "(d)", "orient": "top", "anchor": "start", "frame": "group", "offset": -32, "dx": -294, "fontSize": 82, "fontWeight": "bold", "color": "black"},
      "transform": [{"fold": ["t", "p"], "as": ["s", "v"]}],
      "encoding": {
        "x": {"field": "i", "type": "quantitative", "scale": {"domain": [-50, 450], "nice": false, "zero": false}, "axis": {"title": "Sample Index", "values": [0, 100, 200, 300, 400], "format": "d"}},
        "y": {"field": "v", "type": "quantitative", "scale": {"domain": [-1000, 9000], "nice": false, "zero": false}, "axis": {"title": "MTR (birds/(km·h))", "values": [0, 2000, 4000, 6000, 8000], "format": ",d"}},
        "color": {"field": "s", "type": "nominal", "scale": {"domain": ["t", "p"], "range": ["#a45efc", "#0a807b"]},
          "legend": {"title": null, "orient": "top-right", "offset": 30, "labelExpr": "datum.value === 't' ? 'True Values' : 'Predicted Values'", "labelFontSize": 57, "labelFontWeight": "bold", "labelColor": "black", "labelOffset": 51, "labelLimit": 1000, "symbolType": "M-2.2,0H2.2M0,-0.27L0.17,0L0,0.27L-0.17,0Z", "symbolSize": 3600, "symbolStrokeWidth": 6, "rowPadding": 10, "padding": 0,
            "encode": {"symbols": {"update": {"fill": {"signal": "datum.value === 't' ? '#a45efc' : '#0a807b'"}, "stroke": {"signal": "datum.value === 't' ? '#a45efc' : '#0a807b'"}, "opacity": {"value": 1}}}}}}
      },
      "layer": [
        {"transform": [{"filter": "datum.s === 't'"}], "mark": {"type": "line", "strokeWidth": 5}, "encoding": {}},
        {"transform": [{"filter": "datum.s === 't'"}], "mark": {"type": "point", "shape": "M0,-1L0.8,0L0,1L-0.8,0Z", "filled": true, "size": 300, "opacity": 1}},
        {"transform": [{"filter": "datum.s === 'p'"}], "mark": {"type": "line", "strokeWidth": 5}, "encoding": {}},
        {"transform": [{"filter": "datum.s === 'p'"}], "mark": {"type": "point", "shape": "M0,-1L0.8,0L0,1L-0.8,0Z", "filled": true, "size": 300, "opacity": 1}}
      ]
    },
    {
      "width": 1669, "height": 1341,
      "data": {"name": "e"},
      "title": {"text": "(e)", "orient": "top", "anchor": "start", "frame": "group", "offset": -32, "dx": -294, "fontSize": 82, "fontWeight": "bold", "color": "black"},
      "transform": [{"fold": ["t", "p"], "as": ["s", "v"]}],
      "encoding": {
        "x": {"field": "i", "type": "quantitative", "scale": {"domain": [-50, 450], "nice": false, "zero": false}, "axis": {"title": "Sample Index", "values": [0, 100, 200, 300, 400], "format": "d"}},
        "y": {"field": "v", "type": "quantitative", "scale": {"domain": [-500, 4500], "nice": false, "zero": false}, "axis": {"title": "MTR (birds/(km·h))", "values": [0, 1000, 2000, 3000, 4000], "format": ",d"}},
        "color": {"field": "s", "type": "nominal", "scale": {"domain": ["t", "p"], "range": ["#a45efc", "#0a807b"]},
          "legend": {"title": null, "orient": "top-right", "offset": 30, "labelExpr": "datum.value === 't' ? 'True Values' : 'Predicted Values'", "labelFontSize": 57, "labelFontWeight": "bold", "labelColor": "black", "labelOffset": 51, "labelLimit": 1000, "symbolType": "M-2.2,0H2.2M0,-0.27L0.17,0L0,0.27L-0.17,0Z", "symbolSize": 3600, "symbolStrokeWidth": 6, "rowPadding": 10, "padding": 0,
            "encode": {"symbols": {"update": {"fill": {"signal": "datum.value === 't' ? '#a45efc' : '#0a807b'"}, "stroke": {"signal": "datum.value === 't' ? '#a45efc' : '#0a807b'"}, "opacity": {"value": 1}}}}}}
      },
      "layer": [
        {"transform": [{"filter": "datum.s === 't'"}], "mark": {"type": "line", "strokeWidth": 5}, "encoding": {}},
        {"transform": [{"filter": "datum.s === 't'"}], "mark": {"type": "point", "shape": "M0,-1L0.8,0L0,1L-0.8,0Z", "filled": true, "size": 300, "opacity": 1}},
        {"transform": [{"filter": "datum.s === 'p'"}], "mark": {"type": "line", "strokeWidth": 5}, "encoding": {}},
        {"transform": [{"filter": "datum.s === 'p'"}], "mark": {"type": "point", "shape": "M0,-1L0.8,0L0,1L-0.8,0Z", "filled": true, "size": 300, "opacity": 1}}
      ]
    }
  ],
  "config": {
    "font": "Liberation Sans",
    "view": {"stroke": "black", "strokeWidth": 6.5},
    "axis": {"grid": false, "domainColor": "black", "domainWidth": 6.5, "tickColor": "black", "tickWidth": 6.5, "tickSize": -16, "labelFont": "Liberation Sans", "labelFontSize": 56, "labelFontWeight": "bold", "labelColor": "black", "titleFont": "Liberation Sans", "titleFontSize": 70, "titleFontWeight": "normal", "titleColor": "black"},
    "axisX": {"labelPadding": 33, "titlePadding": 40},
    "axisY": {"labelPadding": 37, "titlePadding": 13},
    "title": {"font": "Liberation Sans"}
  }
}
